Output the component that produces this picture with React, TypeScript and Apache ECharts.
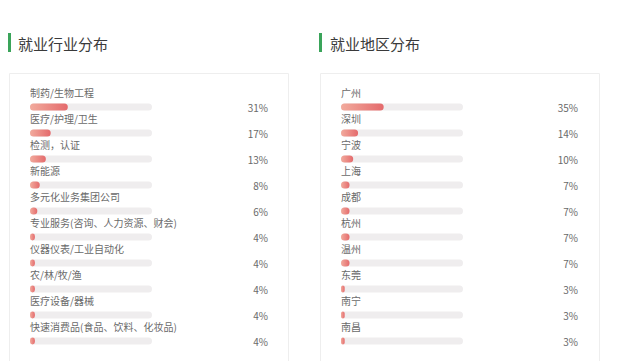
import React, { useEffect, useRef } from "react";
import * as echarts from "echarts";

const industryTitle = "就业行业分布";
const regionTitle = "就业地区分布";

const industries = [
  "制药/生物工程",
  "医疗/护理/卫生",
  "检测，认证",
  "新能源",
  "多元化业务集团公司",
  "专业服务(咨询、人力资源、财会)",
  "仪器仪表/工业自动化",
  "农/林/牧/渔",
  "医疗设备/器械",
  "快速消费品(食品、饮料、化妆品)",
];
const industryValues = [31, 17, 13, 8, 6, 4, 4, 4, 4, 4];

const regions = ["广州", "深圳", "宁波", "上海", "成都", "杭州", "温州", "东莞", "南宁", "南昌"];
const regionValues = [35, 14, 10, 7, 7, 7, 7, 3, 3, 3];

const FONT = "'Noto Sans CJK SC', 'Noto Sans', sans-serif";

function buildPanel(idx: number, cats: string[], vals: number[]) {
  const gradient = new echarts.graphic.LinearGradient(0, 0, 1, 0, [
    { offset: 0, color: "#f2ab9d" },
    { offset: 1, color: "#e46a6c" },
  ]);
  return {
    grid: idx === 0
      ? { left: 30, width: 122, top: 94, height: 260 }
      : { left: 341, width: 122, top: 94, height: 260 },
    xAxis: { type: "value", gridIndex: idx, min: 0, max: 100, show: false },
    yAxis: { type: "category", gridIndex: idx, data: cats, inverse: true, show: false },
    series: [
      {
        type: "bar",
        xAxisIndex: idx,
        yAxisIndex: idx,
        data: cats.map(() => 100),
        barWidth: 7,
        barGap: "-100%",
        z: 1,
        itemStyle: { color: "#efedee", borderRadius: 3.5 },
        label: {
          show: true,
          position: [0, -11],
          verticalAlign: "middle",
          align: "left",
          formatter: (p: any) => cats[p.dataIndex],
          color: "#6a6a6a",
          fontSize: 10,
          fontFamily: FONT,
        },
        silent: true,
      },
      {
        type: "bar",
        xAxisIndex: idx,
        yAxisIndex: idx,
        data: vals,
        barWidth: 7,
        barGap: "-100%",
        z: 2,
        itemStyle: { color: gradient, borderRadius: 3.5 },
        label: {
          show: true,
          position: [idx === 0 ? 238 : 237, 3.5],
          verticalAlign: "middle",
          align: "right",
          formatter: (p: any) => p.value + "%",
          color: "#6a6a6a",
          fontSize: 10,
          fontFamily: FONT,
        },
      },
    ],
  };
}

export default function App() {
  const ref = useRef<HTMLDivElement>(null);
  useEffect(() => {
    if (!ref.current) return;
    const chart = echarts.init(ref.current, null, { renderer: "svg" });
    const a = buildPanel(0, industries, industryValues);
    const b = buildPanel(1, regions, regionValues);
    chart.setOption({
      animation: false,
      backgroundColor: "#ffffff",
      graphic: [
        { type: "rect", shape: { x: 9.5, y: 73.5, width: 279, height: 300 }, style: { fill: "#fff", stroke: "#eeeeee", lineWidth: 1 }, z: -10 },
        { type: "rect", shape: { x: 320.5, y: 73.5, width: 279, height: 300 }, style: { fill: "#fff", stroke: "#eeeeee", lineWidth: 1 }, z: -10 },
        { type: "rect", shape: { x: 8, y: 33, width: 3, height: 19 }, style: { fill: "#3aa45a" } },
        { type: "rect", shape: { x: 319, y: 33, width: 3, height: 19 }, style: { fill: "#3aa45a" } },
        { type: "text", x: 18, y: 43, style: { text: industryTitle, fill: "#3a3a3a", font: `15px ${FONT}`, verticalAlign: "middle" } },
        { type: "text", x: 330, y: 43, style: { text: regionTitle, fill: "#3a3a3a", font: `15px ${FONT}`, verticalAlign: "middle" } },
      ],
      grid: [a.grid, b.grid],
      xAxis: [a.xAxis, b.xAxis],
      yAxis: [a.yAxis, b.yAxis],
      series: [...a.series, ...b.series],
    });
    return () => chart.dispose();
  }, []);
  return (
    <div
      ref={ref}
      style={{ position: "absolute", left: 0, top: 0, width: 640, height: 361 }}
    />
  );
}
